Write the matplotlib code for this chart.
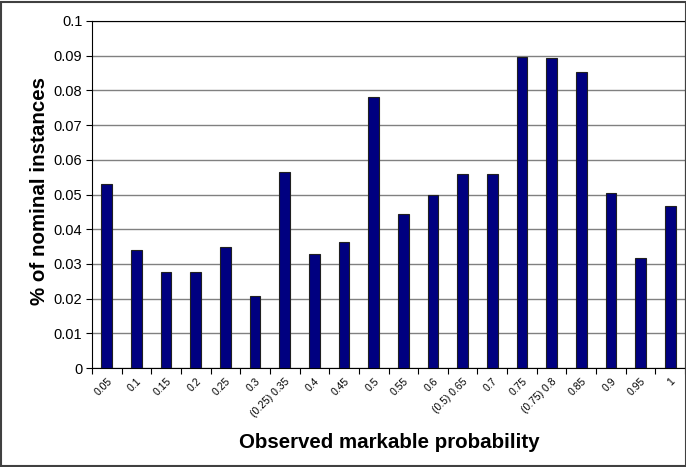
import matplotlib
matplotlib.use("Agg")
import matplotlib.pyplot as plt
from matplotlib.patches import Rectangle

plt.rcParams['font.family'] = ['Liberation Sans', 'DejaVu Sans']

labels = ["0.05", "0.1", "0.15", "0.2", "0.25", "0.3", "(0.25) 0.35", "0.4",
          "0.45", "0.5", "0.55", "0.6", "(0.5) 0.65", "0.7", "0.75",
          "(0.75) 0.8", "0.85", "0.9", "0.95", "1"]
values = [0.0529, 0.0341, 0.0277, 0.0278, 0.0348, 0.0208, 0.0565, 0.0329,
          0.0364, 0.0782, 0.0444, 0.0500, 0.0558, 0.0558, 0.0896, 0.0892,
          0.0853, 0.0504, 0.0316, 0.0466]
yticks = [0, 0.01, 0.02, 0.03, 0.04, 0.05, 0.06, 0.07, 0.08, 0.09, 0.1]

fig = plt.figure(figsize=(6.86, 4.67), dpi=100)
W, H = 686, 467
ax = fig.add_axes([92 / W, 1 - 368 / H, (685 - 92) / W, (368 - 21) / H])

x = list(range(len(values)))
ax.bar(x, values, width=0.36, color='#000080', edgecolor='#202020',
       linewidth=0.8, zorder=3)

ax.set_xlim(-0.5, len(values) - 0.5)
ax.set_ylim(0, 0.1)
ax.set_yticks(yticks)
ax.set_yticklabels(["0" if v == 0 else ("%g" % v) for v in yticks], fontsize=10.5)
ax.yaxis.grid(True, color='#808080', linewidth=1.0, zorder=0)
ax.set_axisbelow(True)

# category boundary ticks on x
ax.set_xticks([i - 0.5 for i in range(len(values) + 1)])
ax.set_xticklabels([])
ax.set_xticks(x, minor=True)
ax.set_xticklabels(labels, minor=True, rotation=45, ha='right',
                   rotation_mode='anchor', fontsize=7.5)
ax.tick_params(axis='x', which='minor', length=0, pad=6)
ax.tick_params(axis='x', which='major', length=4, direction='out', width=0.8)
ax.tick_params(axis='y', length=4, direction='out', width=0.8, pad=3)

for s in ['top', 'right']:
    ax.spines[s].set_color('black')
    ax.spines[s].set_linewidth(0.8)
ax.spines['left'].set_linewidth(0.8)
ax.spines['bottom'].set_linewidth(0.8)

fig.text(40 / W, 1 - 191 / H, "% of nominal instances", rotation=90,
         ha='center', va='center', fontsize=14.8, fontweight='bold')
fig.text(389 / W, 1 - 443 / H, "Observed markable probability",
         ha='center', va='center', fontsize=14.8, fontweight='bold')

fig.patches.append(Rectangle((1 / W, 1 / H), (W - 1) / W, (H - 3) / H,
                             transform=fig.transFigure, fill=False,
                             edgecolor='#404040', linewidth=1.5))

fig.savefig("out.png", dpi=100)
